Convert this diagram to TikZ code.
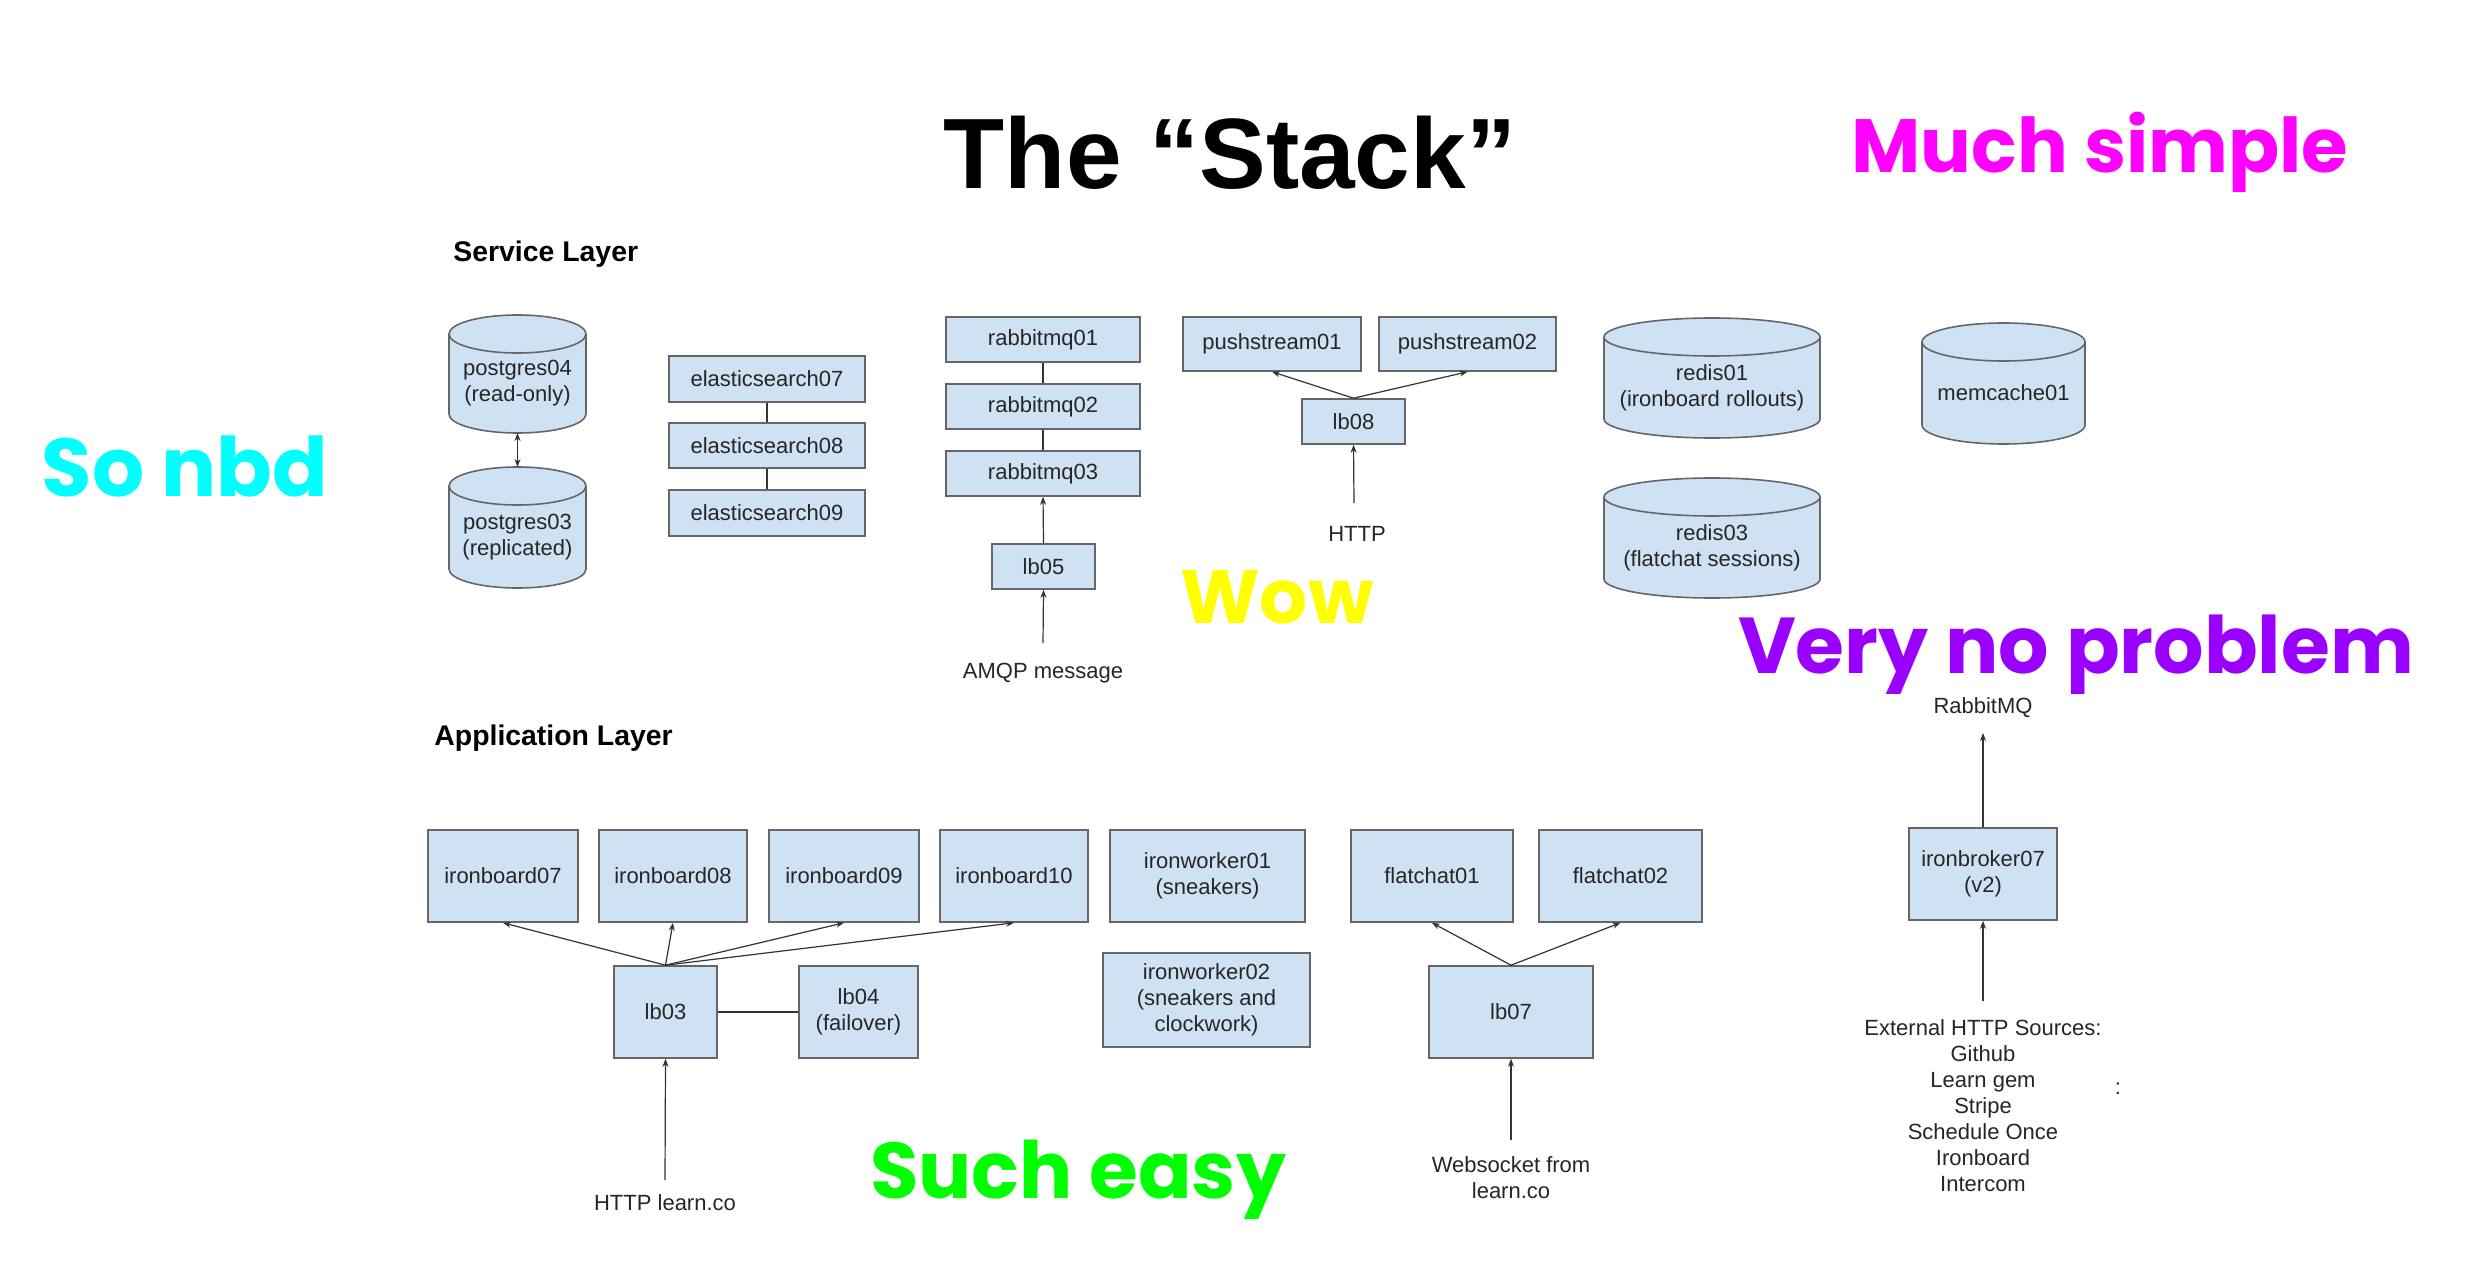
\documentclass[tikz,border=0pt]{standalone}
\usepackage{fontspec}
\setmainfont{Liberation Sans}
\newfontfamily\comic{Poppins}
\usetikzlibrary{arrows.meta}
\definecolor{boxblue}{HTML}{CFE2F3}
\definecolor{boxline}{HTML}{666666}
\definecolor{arrgray}{HTML}{333333}
\definecolor{dogemag}{HTML}{FF00FF}
\definecolor{dogecyan}{HTML}{00FFFF}
\definecolor{dogeyel}{HTML}{FFFF00}
\definecolor{dogepur}{HTML}{9900FF}
\definecolor{dogegreen}{HTML}{00FF00}
\tikzset{
  box/.style={draw=boxline, fill=boxblue, line width=0.8pt, inner sep=0pt, align=center,
    font=\fontsize{11}{13}\selectfont, text=black!85},
  cylbody/.style={draw=boxline, fill=boxblue, line width=0.8pt},
  cyledge/.style={draw=boxline, line width=0.8pt},
  cyltext/.style={inner sep=0pt, align=center, font=\fontsize{11}{13}\selectfont, text=black!85},
  conn/.style={draw=arrgray, line width=0.6pt},
  arr/.style={conn, -{Stealth[length=4pt,width=3pt]}},
  darr/.style={conn, {Stealth[length=4pt,width=3pt]}-{Stealth[length=4pt,width=3pt]}},
  lbl/.style={inner sep=0pt, align=center, font=\fontsize{11}{13}\selectfont, text=black!85},
  layer/.style={inner sep=0pt, font=\bfseries\fontsize{14.2}{16}\selectfont},
  doge/.style={inner sep=0pt, anchor=base},
}
\newcommand{\dogefont}[1]{\comic\bfseries\fontsize{#1}{#1}\selectfont}
% #1 name, #2 left, #3 right, #4 top, #5 bottom, #6 text  (pixel coordinates)
\newcommand{\dbcyl}[6]{%
  \pgfmathsetmacro\cylcx{(#2+#3)/2}%
  \pgfmathsetmacro\cylrx{(#3-#2)/2*0.5}%
  \pgfmathsetmacro\cyley{19}%
  \pgfmathsetmacro\cyleyp{\cyley*0.5}%
  \pgfmathsetmacro\cylcy{(#4+#5)/2+\cyley/2}%
  \draw[cylbody] (#2,#4+\cyley) -- (#2,#5-\cyley)
     arc[start angle=180,end angle=360,x radius=\cylrx pt,y radius=\cyleyp pt]
     -- (#3,#4+\cyley)
     arc[start angle=0,end angle=180,x radius=\cylrx pt,y radius=\cyleyp pt] -- cycle;
  \draw[cyledge] (#2,#4+\cyley)
     arc[start angle=180,end angle=360,x radius=\cylrx pt,y radius=\cyleyp pt];
  \node[cyltext] (#1) at (\cylcx,\cylcy) {#6};
  \coordinate (#1-top) at (\cylcx,#4);
  \coordinate (#1-bot) at (\cylcx,#5);
}
\newcommand{\srvbox}[6]{%
  \node[box, minimum width={(#3-#2)*0.5pt}, minimum height={(#5-#4)*0.5pt}]
    (#1) at ({(#2+#3)/2},{(#4+#5)/2}) {#6};}
\begin{document}
\begin{tikzpicture}[x=0.5pt,y=-0.5pt]
\useasboundingbox[fill=white] (0,0) rectangle (2472,1272);

% titles
\node[inner sep=0pt, font=\bfseries\fontsize{50}{56}\selectfont] (title) at (1230,153) {The “Stack”};
\node[doge, text=dogemag, font=\dogefont{37.7}] (much) at (2100,173) {Much simple};
\node[doge, text=dogecyan, font=\dogefont{41}] (sonbd) at (185,497) {So nbd};
\node[doge, text=dogeyel, font=\dogefont{37.8}] (wow) at (1277,623) {Wow};
\node[doge, text=dogepur, font=\dogefont{39.6}] (very) at (2076,673) {Very no problem};
\node[doge, text=dogegreen, font=\dogefont{39.5}] (such) at (1078,1198) {Such easy};

\node[layer, anchor=base west] (svc) at (453,262) {Service Layer};
\node[layer, anchor=base west] (app) at (434,745) {Application Layer};

% service layer
\dbcyl{pg04}{449}{586}{315}{433}{postgres04\\(read-only)}
\dbcyl{pg03}{449}{586}{467}{588}{postgres03\\(replicated)}
\draw[darr] (pg04-bot) -- (pg03-top);

\srvbox{es07}{669}{865}{356}{402}{elasticsearch07}
\srvbox{es08}{669}{865}{423}{468}{elasticsearch08}
\srvbox{es09}{669}{865}{490}{536}{elasticsearch09}
\draw[conn] (es07.south) -- (es08.north);
\draw[conn] (es08.south) -- (es09.north);

\srvbox{rmq01}{946}{1140}{317}{362}{rabbitmq01}
\srvbox{rmq02}{946}{1140}{384}{429}{rabbitmq02}
\srvbox{rmq03}{946}{1140}{451}{496}{rabbitmq03}
\srvbox{lb05}{992}{1095}{544}{589}{lb05}
\draw[conn] (rmq01.south) -- (rmq02.north);
\draw[conn] (rmq02.south) -- (rmq03.north);
\draw[arr] (lb05.north) -- (rmq03.south);
\coordinate (amqpsrc) at (1043,643);
\draw[arr] (amqpsrc) -- (lb05.south);
\node[lbl, anchor=base] (amqp) at (1043,678) {AMQP message};

\srvbox{ps01}{1183}{1361}{317}{371}{pushstream01}
\srvbox{ps02}{1379}{1556}{317}{371}{pushstream02}
\srvbox{lb08}{1302}{1405}{399}{444}{lb08}
\draw[arr] (lb08.north) -- (ps01.south);
\draw[arr] (lb08.north) -- (ps02.south);
\coordinate (httpsrc) at (1354,503);
\draw[arr] (httpsrc) -- (lb08.south);
\node[lbl, anchor=base] (http) at (1357,542) {HTTP};

\dbcyl{redis01}{1604}{1820}{318}{438}{redis01\\(ironboard rollouts)}
\dbcyl{memc01}{1922}{2085}{323}{444}{memcache01}
\dbcyl{redis03}{1604}{1820}{478}{598}{redis03\\(flatchat sessions)}

% application layer
\srvbox{ib07}{428}{578}{830}{922}{ironboard07}
\srvbox{ib08}{599}{747}{830}{922}{ironboard08}
\srvbox{ib09}{769}{919}{830}{922}{ironboard09}
\srvbox{ib10}{940}{1088}{830}{922}{ironboard10}
\srvbox{iw01}{1110}{1305}{830}{922}{ironworker01\\(sneakers)}
\srvbox{iw02}{1103}{1310}{953}{1047}{ironworker02\\(sneakers and\\clockwork)}
\srvbox{lb03}{614}{717}{966}{1058}{lb03}
\srvbox{lb04}{799}{918}{966}{1058}{lb04\\(failover)}
\draw[arr] (lb03.north) -- (ib07.south);
\draw[arr] (lb03.north) -- (ib08.south);
\draw[arr] (lb03.north) -- (ib09.south);
\draw[arr] (lb03.north) -- (ib10.south);
\draw[conn] (lb03.east) -- (lb04.west);
\coordinate (httplsrc) at (665,1180);
\draw[arr] (httplsrc) -- (lb03.south);
\node[lbl, anchor=base] (httpl) at (665,1210) {HTTP learn.co};

\srvbox{fc01}{1351}{1513}{830}{922}{flatchat01}
\srvbox{fc02}{1539}{1702}{830}{922}{flatchat02}
\srvbox{lb07}{1429}{1593}{966}{1058}{lb07}
\draw[arr] (lb07.north) -- (fc01.south);
\draw[arr] (lb07.north) -- (fc02.south);
\coordinate (wssrc) at (1511,1140);
\draw[arr] (wssrc) -- (lb07.south);
\node[lbl] (ws) at (1511,1178) {Websocket from\\learn.co};

\srvbox{ib}{1909}{2057}{828}{920}{ironbroker07\\(v2)}
\coordinate (rmqtgt) at (1983,733);
\coordinate (extsrc) at (1983,1001);
\draw[arr] (ib.north) -- (rmqtgt);
\draw[arr] (extsrc) -- (ib.south);
\node[lbl, anchor=base] (rabbit) at (1983,713) {RabbitMQ};
\node[lbl] (ext) at (1983,1106) {External HTTP Sources:\\Github\\Learn gem\\Stripe\\Schedule Once\\Ironboard\\Intercom};
\node[lbl, anchor=base] (colon) at (2118,1094) {:};
\end{tikzpicture}
\end{document}
